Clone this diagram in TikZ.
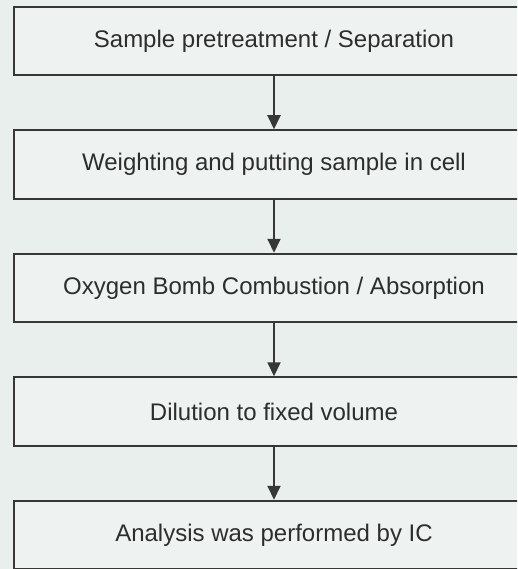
\documentclass[tikz,border=0pt]{standalone}
\usepackage{fontspec}
\setmainfont{Liberation Sans}
\usepackage{xcolor}
\usetikzlibrary{arrows.meta, positioning}
\definecolor{paperbg}{RGB}{233,239,236}
\definecolor{boxfill}{RGB}{238,243,241}
\definecolor{boxline}{RGB}{55,55,55}
\definecolor{boxtext}{RGB}{45,45,45}
\tikzset{
  stepbox/.style={rectangle, draw=boxline, fill=boxfill, line width=2pt,
    minimum width=520pt, minimum height=68.5pt, inner sep=0pt,
    text=boxtext, font=\fontsize{24}{28}\selectfont},
  arrow/.style={-{Triangle[length=14pt, width=13pt]}, line width=2pt, color=boxline},
}
\begin{document}
\begin{tikzpicture}[node distance=53pt]
  \useasboundingbox[fill=paperbg] (0pt,0pt) rectangle (517pt,-569pt);
  \clip (0pt,0pt) rectangle (517pt,-569pt);
  \node[stepbox] at (274pt,-41pt) (pretreat) {Sample pretreatment / Separation};
  \node[stepbox, below=of pretreat] (weigh) {Weighting and putting sample in cell};
  \node[stepbox, below=of weigh] (combust) {Oxygen Bomb Combustion / Absorption};
  \node[stepbox, below=of combust] (dilute) {Dilution to fixed volume};
  \node[stepbox, below=of dilute] (analyse) {Analysis was performed by IC};
  \draw[arrow] (pretreat) -- (weigh);
  \draw[arrow] (weigh) -- (combust);
  \draw[arrow] (combust) -- (dilute);
  \draw[arrow] (dilute) -- (analyse);
\end{tikzpicture}
\end{document}
